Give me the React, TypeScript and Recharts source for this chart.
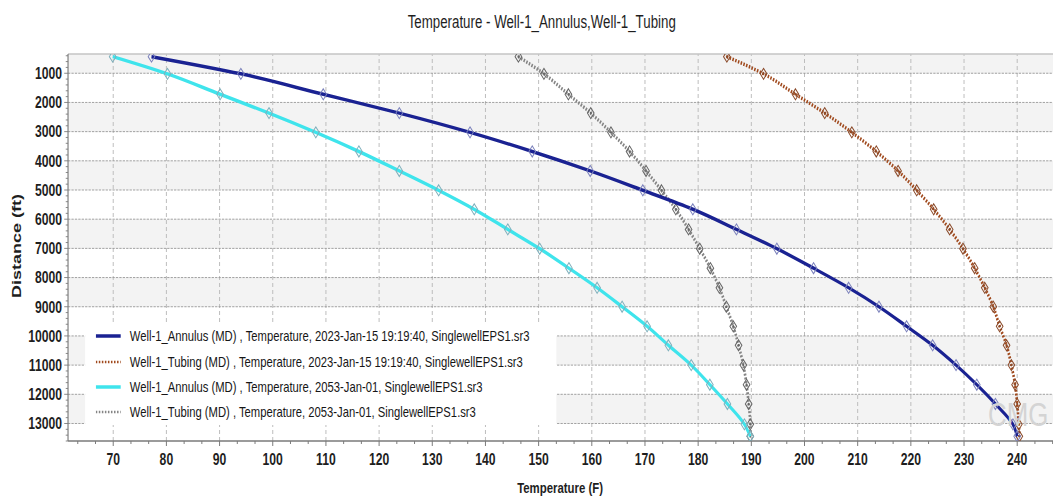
import React from 'react';
import { ScatterChart, Scatter, XAxis, YAxis, ReferenceLine, ReferenceArea, Legend } from 'recharts';

// ---- data (depth in ft, temperature in F) ----
const depths = [430, 1020, 1720, 2365, 3025, 3680, 4346, 5010, 5660, 6350, 7010, 7680, 8350, 9000, 9670, 10320, 11000, 11670, 12330, 13030, 13440];
const annulus2023 = [77.2, 94.0, 109.5, 123.8, 137.1, 148.8, 159.7, 169.6, 179.0, 187.2, 194.8, 201.7, 208.3, 214.0, 219.2, 224.1, 228.5, 232.4, 235.9, 239.2, 240.0];
const tubing2023 = [185.4, 192.3, 198.3, 203.8, 208.9, 213.5, 217.6, 221.1, 224.3, 227.3, 229.8, 232.0, 233.9, 235.5, 236.7, 238.0, 238.9, 239.6, 240.0, 240.3, 240.4];
const annulus2053 = [69.9, 80.2, 90.1, 99.3, 108.1, 116.2, 123.8, 131.2, 137.9, 144.2, 150.2, 155.7, 161.0, 165.7, 170.4, 174.4, 178.7, 182.2, 185.5, 188.7, 189.8];
const tubing2053 = [146.2, 151.0, 155.6, 159.8, 163.6, 167.1, 170.2, 173.1, 175.8, 178.2, 180.3, 182.3, 184.0, 185.3, 186.6, 187.6, 188.5, 189.1, 189.5, 189.8, 189.8];

const seriesNames = [
  'Well-1_Annulus (MD) , Temperature, 2023-Jan-15 19:19:40, SinglewellEPS1.sr3',
  'Well-1_Tubing (MD) , Temperature, 2023-Jan-15 19:19:40, SinglewellEPS1.sr3',
  'Well-1_Annulus (MD) , Temperature, 2053-Jan-01, SinglewellEPS1.sr3',
  'Well-1_Tubing (MD) , Temperature, 2053-Jan-01, SinglewellEPS1.sr3',
];

const xMajorTicks = [70, 80, 90, 100, 110, 120, 130, 140, 150, 160, 170, 180, 190, 200, 210, 220, 230, 240];
const yMajorTicks = [1000, 2000, 3000, 4000, 5000, 6000, 7000, 8000, 9000, 10000, 11000, 12000, 13000];
const xDomain: [number, number] = [61.5, 246.8];
const yDomain: [number, number] = [340, 13600];
const bands: [number, number][] = [[340, 1000], [2000, 3000], [4000, 5000], [6000, 7000], [8000, 9000], [10000, 11000], [12000, 13000]];

const xMinorTicks: number[] = [];
[60, ...xMajorTicks].forEach((m) => {
  [10 / 3, 20 / 3].forEach((o) => {
    const v = m + o;
    if (v > xDomain[0] && v < xDomain[1]) xMinorTicks.push(v);
  });
});
const xTicks = [...xMinorTicks, ...xMajorTicks].sort((a, b) => a - b);
const yTicks: number[] = [];
for (let v = 400; v <= 13600; v += 200) yTicks.push(v);

// ---- styling ----
const S = 0.76;
const W = 1386;
const H = 498;
const FONT = '"Liberation Sans", Arial, sans-serif';

const NAVY = '#1a2292';
const CYAN = '#3fe4ec';
const BROWN = '#a04a1e';
const GRAY = '#858585';

const mk = (arr: number[]) => arr.map((t, i) => ({ t, d: depths[i] }));

const Diamond = (props: any) => {
  const { cx, cy, mstroke, dot } = props;
  if (cx == null || cy == null) return null;
  return (
    <g>
      <path
        d={`M${cx},${cy - 5.5}L${cx + 4.4},${cy}L${cx},${cy + 5.5}L${cx - 4.4},${cy}Z`}
        fill="none"
        stroke={mstroke}
        strokeWidth={1.2}
      />
      {dot ? <circle cx={cx} cy={cy} r={1.3} fill={mstroke} /> : null}
    </g>
  );
};

const YTick = (props: any) => {
  const { x, y, payload } = props;
  const v = payload.value;
  const major = yMajorTicks.includes(v);
  return (
    <g>
      <line x1={x} x2={x - (major ? 5 : 3)} y1={y} y2={y} stroke="#7a7a7a" strokeWidth={1} />
      {major ? (
        <text x={x - 8} y={y} dy="0.36em" textAnchor="end" fontSize={16} fontWeight="bold" fill="#1e1e1e" fontFamily={FONT}>
          {v}
        </text>
      ) : null}
    </g>
  );
};

const XTick = (props: any) => {
  const { x, y, payload } = props;
  const v = payload.value;
  const major = xMajorTicks.includes(v);
  return (
    <g>
      <line x1={x} x2={x} y1={y} y2={y + (major ? 5 : 3)} stroke="#7a7a7a" strokeWidth={1.3} />
      {major ? (
        <text x={x} y={y + 18} dy="0.36em" textAnchor="middle" fontSize={16} fontWeight="bold" fill="#1e1e1e" fontFamily={FONT}>
          {v}
        </text>
      ) : null}
    </g>
  );
};

const legendStyles = [
  { color: NAVY, dash: undefined as string | undefined, w: 3.5 },
  { color: BROWN, dash: '2 2', w: 2.5 },
  { color: CYAN, dash: undefined as string | undefined, w: 3.5 },
  { color: GRAY, dash: '2 2', w: 2.5 },
];

const LegendBox = () => (
  <div style={{ background: '#fff', width: '100%', height: '100%', boxSizing: 'border-box', paddingLeft: 14 }}>
    {seriesNames.map((name, i) => (
      <div key={i} style={{ display: 'flex', alignItems: 'center', height: 25.4 }}>
        <svg width={33} height={6} style={{ display: 'block' }}>
          <line x1={0} x2={33} y1={3} y2={3} stroke={legendStyles[i].color} strokeWidth={legendStyles[i].w} strokeDasharray={legendStyles[i].dash} />
        </svg>
        <span style={{ marginLeft: 12, fontSize: 14.8, color: '#161616', fontFamily: FONT, whiteSpace: 'nowrap' }}>{name}</span>
      </div>
    ))}
  </div>
);

export default function App() {
  return (
    <div style={{ position: 'absolute', left: 0, top: 0, width: 1053, height: H, overflow: 'hidden', background: '#fff' }}>
      <div style={{ position: 'relative', width: W, height: H, transform: `scaleX(${S})`, transformOrigin: '0 0', fontFamily: FONT }}>
        <ScatterChart width={W} height={H} margin={{ top: 54, right: 0, bottom: 0, left: 0 }}>
          {bands.map(([a, b], i) => (
            <ReferenceArea key={'b' + i} y1={a} y2={b} fill="#f3f3f3" fillOpacity={1} stroke="none" ifOverflow="hidden" />
          ))}
          {xMajorTicks.map((v) => (
            <ReferenceLine key={'vx' + v} x={v} stroke="#bdbdbd" strokeDasharray="4 3" strokeWidth={1.3} />
          ))}
          {yMajorTicks.map((v) => (
            <ReferenceLine key={'hy' + v} y={v} stroke="#959595" strokeDasharray="3 1.5" strokeWidth={1} />
          ))}
          <ReferenceLine y={yDomain[0]} stroke="#c4c4c4" strokeWidth={1.5} />
          <XAxis
            type="number"
            dataKey="t"
            domain={xDomain}
            ticks={xTicks}
            interval={0}
            tickSize={0}
            tickMargin={0}
            tick={<XTick />}
            axisLine={{ stroke: '#7a7a7a', strokeWidth: 1.5 }}
            height={57}
            allowDataOverflow
          />
          <YAxis
            type="number"
            dataKey="d"
            domain={yDomain}
            reversed
            ticks={yTicks}
            interval={0}
            tickSize={0}
            tickMargin={0}
            tick={<YTick />}
            axisLine={{ stroke: '#7a7a7a', strokeWidth: 1.5 }}
            width={89.5}
            allowDataOverflow
          />
          <Scatter
            name={seriesNames[3]}
            data={mk(tubing2053)}
            fill={GRAY}
            line={{ stroke: GRAY, strokeWidth: 3.5, strokeDasharray: '2 1.8' }}
            lineJointType="monotoneY"
            shape={(p: any) => <Diamond {...p} mstroke="#666666" dot />}
            isAnimationActive={false}
          />
          <Scatter
            name={seriesNames[1]}
            data={mk(tubing2023)}
            fill={BROWN}
            line={{ stroke: BROWN, strokeWidth: 3.5, strokeDasharray: '2 1.8' }}
            lineJointType="monotoneY"
            shape={(p: any) => <Diamond {...p} mstroke="#8a4a2a" dot />}
            isAnimationActive={false}
          />
          <Scatter
            name={seriesNames[2]}
            data={mk(annulus2053)}
            fill={CYAN}
            line={{ stroke: CYAN, strokeWidth: 3.5 }}
            lineJointType="monotoneY"
            shape={(p: any) => <Diamond {...p} mstroke="#7fb0bc" />}
            isAnimationActive={false}
          />
          <Scatter
            name={seriesNames[0]}
            data={mk(annulus2023)}
            fill={NAVY}
            line={{ stroke: NAVY, strokeWidth: 3.5 }}
            lineJointType="monotoneY"
            shape={(p: any) => <Diamond {...p} mstroke="#7c82bc" />}
            isAnimationActive={false}
          />
          <Legend
            layout="horizontal"
            verticalAlign="middle"
            align="center"
            wrapperStyle={{ position: 'absolute', left: 111.8, top: 323.5, width: 620, height: 101.6 }}
            content={() => <LegendBox />}
          />
        </ScatterChart>
        <div style={{ position: 'absolute', left: 712.8, top: 11, transform: 'translateX(-50%)', fontSize: 17.5, lineHeight: '22px', color: '#1e1e1e', whiteSpace: 'nowrap' }}>
          Temperature - Well-1_Annulus,Well-1_Tubing
        </div>
        <div style={{ position: 'absolute', left: 737, top: 478, transform: 'translateX(-50%)', fontSize: 15, lineHeight: '20px', fontWeight: 'bold', color: '#1e1e1e', whiteSpace: 'nowrap' }}>
          Temperature (F)
        </div>
        <div style={{ position: 'absolute', left: 21, top: 246, transform: 'translate(-50%, -50%) rotate(-90deg)', fontSize: 18, lineHeight: '22px', fontWeight: 'bold', color: '#1e1e1e', whiteSpace: 'nowrap' }}>
          Distance (ft)
        </div>
        <div style={{ position: 'absolute', left: 1300, top: 396, fontSize: 34, lineHeight: '36px', color: '#d4d4d4', whiteSpace: 'nowrap', pointerEvents: 'none' }}>
          CMG
        </div>
      </div>
    </div>
  );
}
